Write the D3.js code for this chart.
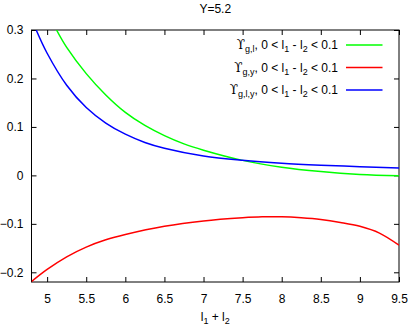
<!DOCTYPE html>
<html>
<head>
<meta charset="utf-8">
<script src="https://cdn.jsdelivr.net/npm/d3@7"></script>
<style>
  body { margin: 0; background: #fff; }
  svg { font-family: "Liberation Sans", Arial, sans-serif; }
</style>
</head>
<body>
<div id="chart"></div>
<script>
// values
const greenX = [5.12, 5.25, 5.5, 5.75, 6.0, 6.25, 6.5, 6.75, 7.0, 7.5, 8.0, 8.5, 9.0, 9.5];
const greenY = [0.300, 0.264, 0.210, 0.166, 0.130, 0.103, 0.082, 0.065, 0.052, 0.031, 0.017, 0.008, 0.002, -0.001];

const blueX = [4.86, 5.0, 5.25, 5.5, 5.75, 6.0, 6.25, 6.5, 7.0, 7.5, 8.0, 8.5, 9.0, 9.5];
const blueY = [0.300, 0.252, 0.186, 0.140, 0.108, 0.085, 0.068, 0.056, 0.040, 0.031, 0.025, 0.021, 0.018, 0.015];

const redX = [4.8, 5.0, 5.25, 5.5, 5.75, 6.0, 6.5, 7.0, 7.5, 7.75, 8.0, 8.25, 8.5, 8.75, 9.0, 9.25, 9.5];
const redY = [-0.219, -0.194, -0.168, -0.148, -0.133, -0.122, -0.105, -0.094, -0.0875, -0.0855, -0.0855, -0.0875, -0.091, -0.097, -0.105, -0.119, -0.144];

const xTicks = [5, 5.5, 6, 6.5, 7, 7.5, 8, 8.5, 9, 9.5];
const yTicks = [0.3, 0.2, 0.1, 0, -0.1, -0.2];

const series = [
  { name: "g,l", xs: greenX, ys: greenY, color: "#00ff00" },
  { name: "g,y", xs: redX, ys: redY, color: "#ff0000" },
  { name: "g,l,y", xs: blueX, ys: blueY, color: "#0000ff" }
];

const W = 410, H = 327;
const margin = { top: 30, right: 11, bottom: 45, left: 31.5 };
const width = W - margin.left - margin.right,
      height = H - margin.top - margin.bottom;

const svg = d3.select("#chart").append("svg")
  .attr("width", W)
  .attr("height", H);

const g = svg.append("g")
  .attr("transform", `translate(${margin.left},${margin.top})`);

const x = d3.scaleLinear().domain([4.8, 9.5]).range([0, width]);
const y = d3.scaleLinear().domain([-0.22, 0.3]).range([height, 0]);

svg.append("defs").append("clipPath").attr("id", "clip")
  .append("rect").attr("width", width).attr("height", height);

// axes, ticks inward and mirrored
const tickLen = 5;
g.append("g").attr("transform", `translate(0,${height})`)
  .call(d3.axisBottom(x).tickValues(xTicks).tickSizeInner(-tickLen).tickSizeOuter(0).tickPadding(12).tickFormat(d3.format("")));
g.append("g")
  .call(d3.axisTop(x).tickValues(xTicks).tickSizeInner(-tickLen).tickSizeOuter(0).tickFormat(""));
g.append("g")
  .call(d3.axisLeft(y).tickValues(yTicks).tickSizeInner(-tickLen).tickSizeOuter(0).tickPadding(8).tickFormat(d3.format("")));
g.append("g").attr("transform", `translate(${width},0)`)
  .call(d3.axisRight(y).tickValues(yTicks).tickSizeInner(-tickLen).tickSizeOuter(0).tickFormat(""));

g.selectAll(".domain").remove();
g.selectAll(".tick line").attr("stroke", "#000");
g.selectAll(".tick text").attr("font-size", 12).attr("fill", "#000")
  .attr("font-family", "Liberation Sans, Arial, sans-serif");

g.append("rect")
  .attr("width", width).attr("height", height)
  .attr("fill", "none").attr("stroke", "#000").attr("stroke-width", 1);

const line = d3.line()
  .x(d => x(d[0]))
  .y(d => y(d[1]))
  .curve(d3.curveCatmullRom.alpha(0.5));

series.forEach(s => {
  const pts = s.xs.map((v, i) => [v, s.ys[i]]);
  g.append("path")
    .attr("clip-path", "url(#clip)")
    .attr("fill", "none")
    .attr("stroke", s.color)
    .attr("stroke-width", 1.5)
    .attr("d", line(pts));
});

// legend
const legend = g.append("g").attr("font-size", 12);
series.forEach((s, i) => {
  const ly = 15 + i * 22.5;
  const t = legend.append("text")
    .attr("x", 306.5).attr("y", ly + 4)
    .attr("text-anchor", "end");
  t.append("tspan").attr("font-family", "DejaVu Serif, DejaVu Sans, serif").text("ϒ");
  t.append("tspan").attr("font-size", 9).attr("dy", 3).text(s.name);
  t.append("tspan").attr("dy", -3).text(", 0 < l");
  t.append("tspan").attr("font-size", 9).attr("dy", 3).text("1");
  t.append("tspan").attr("dy", -3).text(" - l");
  t.append("tspan").attr("font-size", 9).attr("dy", 3).text("2");
  t.append("tspan").attr("dy", -3).text(" < 0.1");
  legend.append("line")
    .attr("x1", 314.5).attr("x2", 351)
    .attr("y1", ly).attr("y2", ly)
    .attr("stroke", s.color).attr("stroke-width", 1.5);
});

// title
svg.append("text")
  .attr("x", margin.left + width / 2).attr("y", 13)
  .attr("text-anchor", "middle").attr("font-size", 12)
  .text("Y=5.2");

// x axis label
const xl = svg.append("text")
  .attr("x", margin.left + width / 2).attr("y", 321)
  .attr("text-anchor", "middle").attr("font-size", 12);
xl.append("tspan").text("l");
xl.append("tspan").attr("font-size", 9).attr("dy", 3).text("1");
xl.append("tspan").attr("dy", -3).text(" + l");
xl.append("tspan").attr("font-size", 9).attr("dy", 3).text("2");
</script>
</body>
</html>
